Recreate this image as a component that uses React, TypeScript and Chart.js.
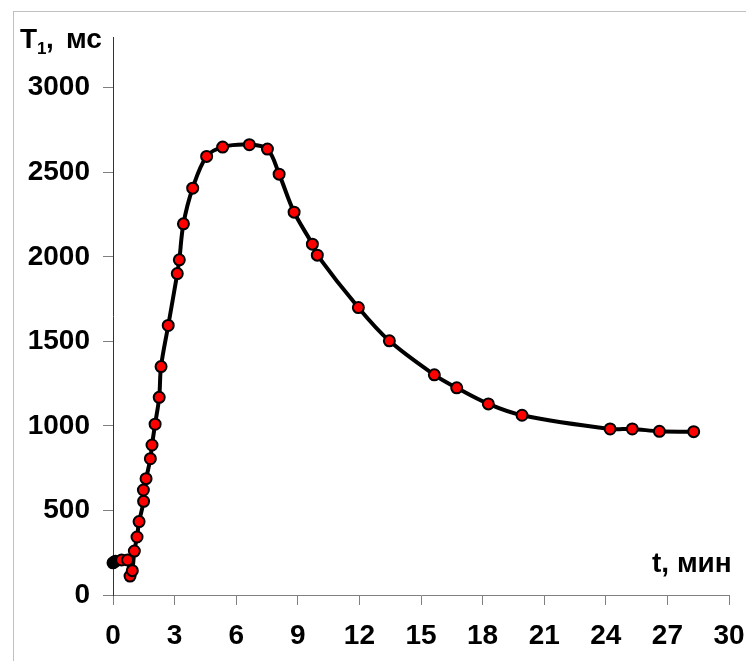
import React, { useEffect, useRef } from "react";
import { Chart, registerables } from "chart.js";

Chart.register(...registerables);

// time, min
const timeMin = [0, 0.12, 0.42, 0.71, 0.83, 0.94, 1.04, 1.17, 1.27, 1.49, 1.48, 1.61, 1.82, 1.9, 2.05, 2.25, 2.34, 2.69, 3.13, 3.23, 3.43, 3.88, 4.56, 5.34, 6.64, 7.52, 8.09, 8.82, 9.71, 9.95, 11.95, 13.46, 15.65, 16.74, 18.28, 19.92, 24.21, 25.29, 26.61, 28.28];
// T1, ms
const t1Ms = [190, 200, 207, 207, 112, 144, 260, 343, 434, 554, 621, 688, 806, 887, 1010, 1169, 1351, 1594, 1901, 1982, 2195, 2406, 2594, 2649, 2663, 2637, 2489, 2264, 2075, 2010, 1700, 1503, 1302, 1225, 1130, 1063, 982, 982, 968, 966];
// marker colours (first two markers are black)
const markerColors = timeMin.map((_, i) => (i < 2 ? "#000000" : "#ff0000"));

const yTickValues = [0, 500, 1000, 1500, 2000, 2500, 3000];
const xTickStep = 3;
const yLabel = "мс";
const yLabelMain = "T";
const yLabelSub = "1";
const xLabel = "t, мин";

const FONT = '"Liberation Sans", Arial, sans-serif';

export default function App() {
  const ref = useRef<HTMLCanvasElement | null>(null);
  useEffect(() => {
    const canvas = ref.current!;
    const textPlugin = {
      id: "texts",
      afterDraw(chart: any) {
        const ctx = chart.ctx;
        ctx.save();
        ctx.strokeStyle = "#c0c0c0";
        ctx.lineWidth = 1;
        ctx.strokeRect(13.5, 11.5, 900, 900);
        ctx.fillStyle = "#000";
        ctx.textBaseline = "alphabetic";
        ctx.textAlign = "left";
        ctx.font = `bold 28px ${FONT}`;
        ctx.fillText(yLabelMain, 20, 48);
        ctx.font = `bold 17px ${FONT}`;
        ctx.fillText(yLabelSub, 37, 54);
        ctx.font = `bold 28px ${FONT}`;
        ctx.fillText(",", 46, 48);
        ctx.fillText(yLabel, 66, 48);
        ctx.fillText(xLabel, 652, 572);
        ctx.restore();
      },
    };
    const chart = new Chart(canvas, {
      type: "line",
      data: {
        datasets: [
          {
            data: timeMin.map((t, i) => ({ x: t, y: t1Ms[i] })),
            borderColor: "#000000",
            borderWidth: 4,
            tension: 0.35,
            pointRadius: 5.5,
            pointBackgroundColor: markerColors,
            pointBorderColor: "#000000",
            pointBorderWidth: 2,
            clip: false as any,
          },
        ],
      },
      options: {
        animation: false,
        responsive: false,
        maintainAspectRatio: false,
        layout: { padding: { left: 0, top: 37, right: 17, bottom: 0 } },
        plugins: { legend: { display: false }, tooltip: { enabled: false } },
        scales: {
          x: {
            type: "linear",
            min: 0,
            max: 30,
            grid: { drawOnChartArea: false, drawTicks: true, tickLength: 10, color: "#808080" },
            border: { display: true, color: "#808080", width: 1 },
            ticks: {
              stepSize: xTickStep,
              padding: 14,
              color: "#000",
              maxRotation: 0,
              autoSkip: false,
              font: { family: FONT, size: 28, weight: "bold" },
              callback: (v: any) => String(v),
            },
            afterFit(scale: any) {
              scale.height = 66;
              scale.paddingLeft = 0;
              scale.paddingRight = 0;
            },
          },
          y: {
            type: "linear",
            min: 0,
            max: 3300,
            grid: { drawOnChartArea: false, drawTicks: true, tickLength: 10, color: "#808080" },
            border: { display: true, color: "#333333", width: 1 },
            ticks: {
              padding: 13,
              color: "#000",
              autoSkip: false,
              font: { family: FONT, size: 28, weight: "bold" },
              callback: (v: any) => String(v),
            },
            afterBuildTicks(scale: any) {
              scale.ticks = yTickValues.map((v) => ({ value: v }));
            },
            afterFit(scale: any) {
              scale.width = 113;
              scale.paddingTop = 0;
              scale.paddingBottom = 0;
            },
          },
        },
      },
      plugins: [textPlugin],
    } as any);
    return () => chart.destroy();
  }, []);
  return (
    <div style={{ position: "fixed", left: 0, top: 0, width: 746, height: 661, background: "#fff" }}>
      <canvas ref={ref} width={746} height={661} style={{ display: "block", width: 746, height: 661 }} />
    </div>
  );
}
